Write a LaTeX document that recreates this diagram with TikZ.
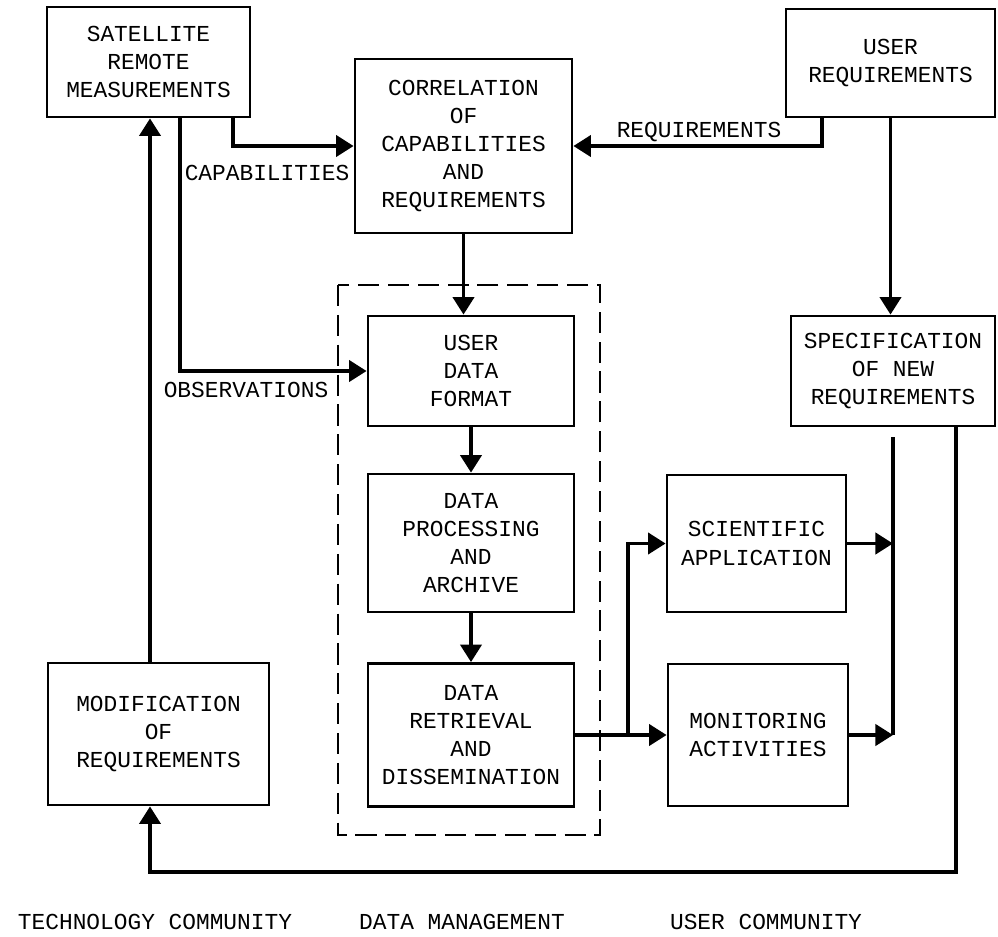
\documentclass[tikz,border=0pt]{standalone}
\usepackage{fontspec}
\setmonofont{Liberation Mono}
\usetikzlibrary{arrows.meta}

\begin{document}
\begin{tikzpicture}[x=0.02cm, y=-0.02cm,
        box/.style={draw, line width=1.6pt, align=center, inner sep=0pt,
            font=\ttfamily\fontsize{13}{16}\selectfont},
        flow/.style={line width=2.2pt, -{Triangle[length=10pt,width=12pt]}},
        link/.style={line width=2.2pt},
        lbl/.style={font=\ttfamily\fontsize{13}{16}\selectfont}]
        \useasboundingbox (0,0) rectangle (998,937);

        % Technology side
        \node[box, minimum width=4.06cm, minimum height=2.2cm] (sat) at (148.5,62)
            {SATELLITE\\REMOTE\\MEASUREMENTS};
        \node[box, minimum width=4.42cm, minimum height=2.84cm] (mod) at (158.5,734)
            {MODIFICATION\\OF\\REQUIREMENTS};

        % Middle column
        \node[box, minimum width=4.34cm, minimum height=3.48cm] (corr) at (463.5,146)
            {CORRELATION\\OF\\CAPABILITIES\\AND\\REQUIREMENTS};
        \draw[line width=1.5pt, dash pattern=on 12pt off 5pt] (338,285) rectangle (600,835);
        \node[box, minimum width=4.12cm, minimum height=2.2cm] (udf) at (471,371)
            {USER\\DATA\\FORMAT};
        \node[box, minimum width=4.12cm, minimum height=2.76cm] (dpa) at (471,543)
            {DATA\\PROCESSING\\AND\\ARCHIVE};
        \node[box, minimum width=4.12cm, minimum height=2.86cm] (drd) at (471,735)
            {DATA\\RETRIEVAL\\AND\\DISSEMINATION};

        % User side
        \node[box, minimum width=4.18cm, minimum height=2.16cm] (ureq) at (890.5,63)
            {USER\\REQUIREMENTS};
        \node[box, minimum width=4.08cm, minimum height=2.2cm] (spec) at (893,371)
            {SPECIFICATION\\OF NEW\\REQUIREMENTS};
        \node[box, minimum width=3.58cm, minimum height=2.74cm] (sci) at (756.5,543.5)
            {SCIENTIFIC\\APPLICATION};
        \node[box, minimum width=3.6cm, minimum height=2.84cm] (mon) at (758,735)
            {MONITORING\\ACTIVITIES};

        % Junctions
        \coordinate (split) at (drd.east -| 628,0);
        \coordinate (ctop) at (893,437);
        \coordinate (fb) at (150,872);

        % Arrows
        \draw[flow] (sat.south -| 233,0) |- (corr.west);
        \draw[flow] (sat.south -| 180,0) |- (udf.west);
        \draw[flow] (mod.north -| 150,0) -- (sat.south -| 150,0);
        \draw[flow] (ureq.south -| 822,0) |- (corr.east);
        \draw[flow] (ureq.south) -- (ureq.south |- spec.north);
        \draw[flow] (corr.south) -- (corr.south |- udf.north);
        \draw[flow] (udf) -- (dpa);
        \draw[flow] (dpa) -- (drd);
        \draw[flow] (drd.east) -- (mon.west);
        \draw[flow] (split) |- (sci.west);
        \draw[flow] (sci.east) -- (sci.east -| ctop);
        \draw[flow] (mon.east) -- (mon.east -| ctop);
        \draw[link] (ctop) -- (ctop |- mon.east);
        \draw[flow] (spec.south -| 956,0) |- (fb) -- (mod.south -| fb);

        % Labels
        \node[lbl] (cap) at (267,173) {CAPABILITIES};
        \node[lbl] (obs) at (246,390) {OBSERVATIONS};
        \node[lbl] (req) at (699,132) {REQUIREMENTS};
        \node[lbl] (tc) at (155,922) {TECHNOLOGY COMMUNITY};
        \node[lbl] (dm) at (462,922) {DATA MANAGEMENT};
        \node[lbl] (uc) at (766,922) {USER COMMUNITY};
\end{tikzpicture}
\end{document}
